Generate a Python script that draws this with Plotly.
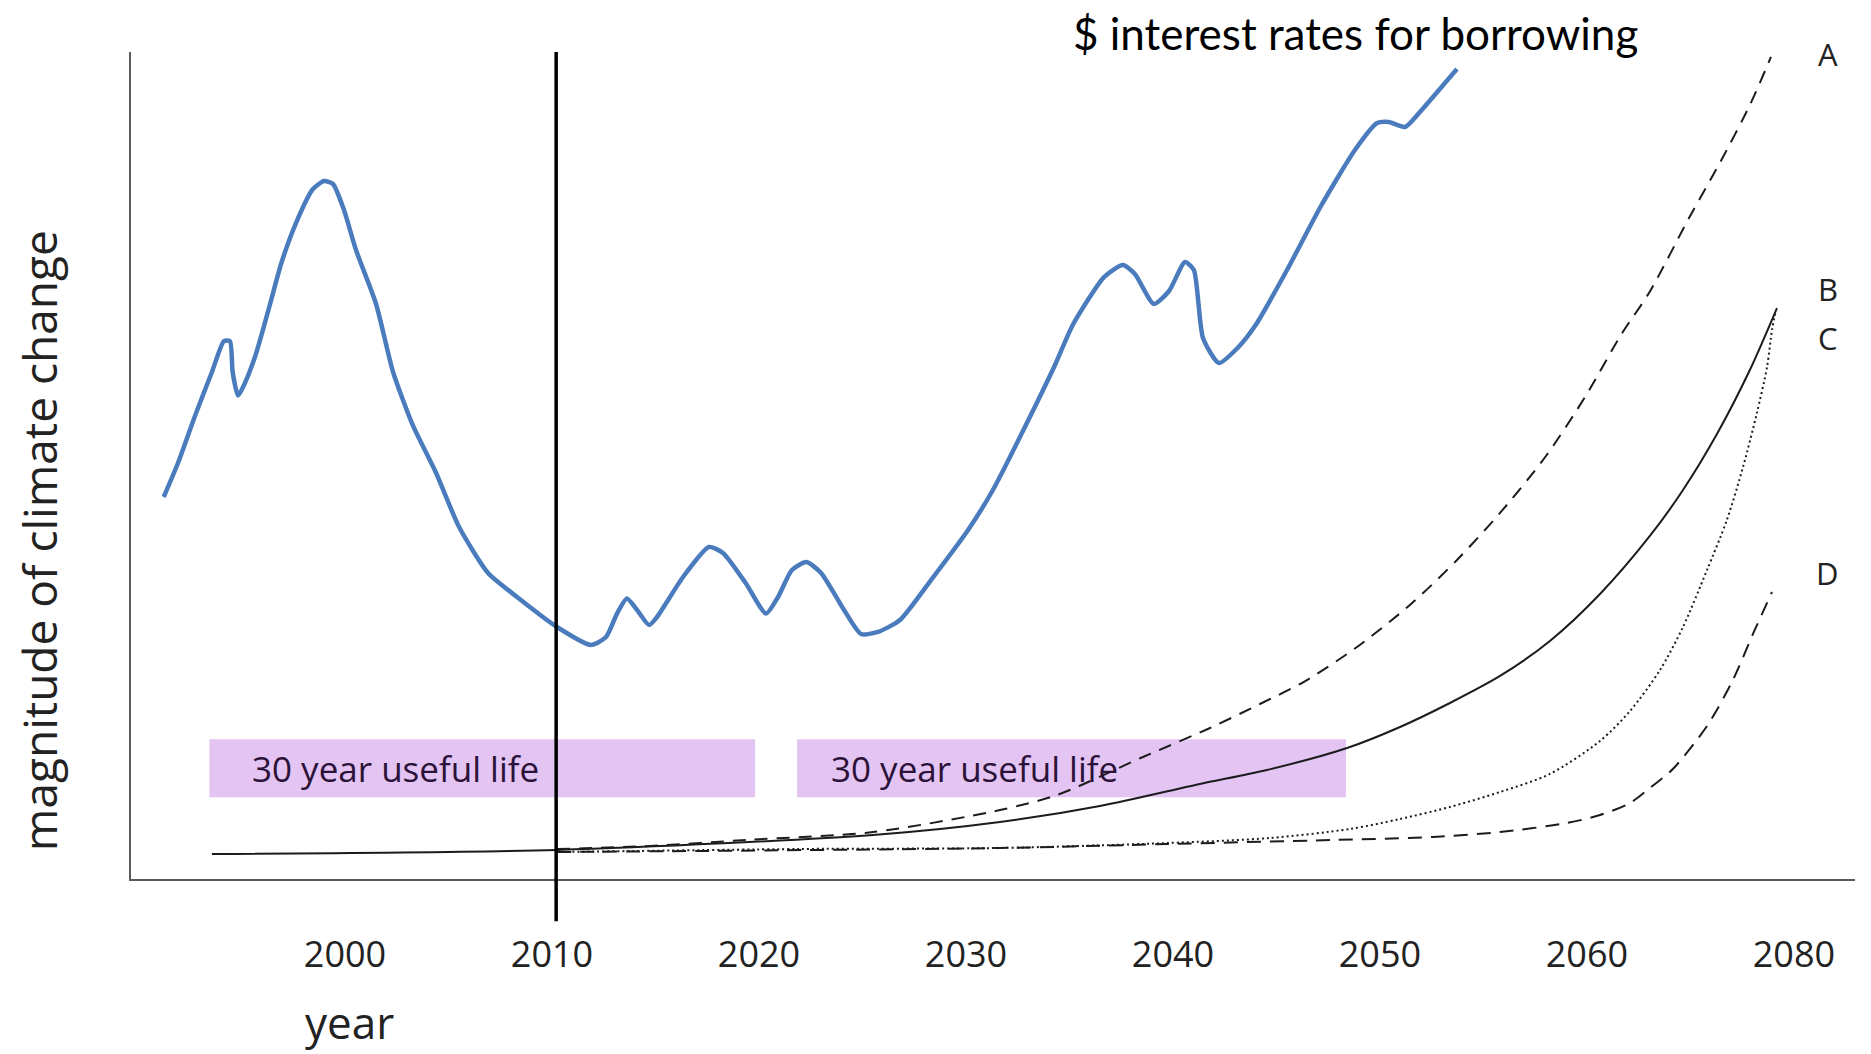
import plotly.graph_objects as go

# ---------------- data ----------------
rate_years = [1991.24, 1991.93, 1992.75, 1993.57, 1994.15, 1994.44, 1994.57, 1994.83,
              1995.12, 1995.68, 1996.38, 1996.91, 1997.63, 1998.45, 1998.99, 1999.42,
              1999.95, 2000.53, 2001.50, 2002.32, 2003.29, 2004.40, 2005.51, 2006.91,
              2008.31, 2010.24, 2011.88, 2012.61, 2013.14, 2013.62, 2014.11, 2014.69,
              2015.07, 2016.33, 2017.58, 2018.26, 2019.37, 2020.34, 2020.92, 2021.59,
              2022.29, 2023.00, 2024.11, 2024.93, 2025.75, 2026.81, 2028.31, 2030.10,
              2031.30, 2032.80, 2034.30, 2035.17, 2036.67, 2037.58, 2038.16, 2039.08,
              2039.81, 2040.58, 2041.01, 2041.45, 2042.22, 2043.12, 2044.01, 2045.51,
              2047.15, 2048.79, 2049.86, 2050.43, 2051.21, 2051.93, 2053.14, 2053.72]
rate_values = [46.19, 50.30, 55.99, 61.31, 65.05, 65.05, 61.31, 58.46,
               59.73, 63.36, 69.53, 74.37, 79.32, 83.43, 84.40, 84.04,
               80.89, 76.06, 69.53, 61.31, 54.78, 49.09, 42.56, 37.00,
               34.10, 30.47, 28.30, 29.26, 32.10, 33.92, 32.53, 30.71,
               31.68, 36.52, 40.15, 39.42, 35.73, 32.10, 34.10, 37.36,
               38.33, 37.00, 32.53, 29.63, 29.87, 31.32, 36.15, 42.20,
               47.04, 54.41, 62.15, 67.05, 72.79, 74.24, 73.16, 69.53,
               71.10, 74.61, 73.64, 65.42, 62.39, 64.21, 67.05, 73.64,
               81.38, 88.15, 91.41, 91.54, 90.93, 92.74, 96.25, 97.94]

a_years = [2010.24, 2014.73, 2019.37, 2025.51, 2031.64, 2034.40, 2038.55, 2041.79,
           2044.25, 2046.31, 2048.89, 2051.50, 2053.72, 2055.80, 2058.02, 2059.95,
           2061.64, 2063.04, 2064.93, 2066.47, 2067.87, 2068.89]
a_values = [3.63, 3.99, 4.72, 5.68, 8.34, 10.16, 14.75, 18.26,
            21.22, 23.82, 28.05, 33.25, 38.57, 44.26, 51.15, 58.45,
            65.78, 71.04, 79.93, 86.82, 93.59, 99.40]

b_years = [1993.57, 2010.24, 2025.51, 2031.64, 2036.47, 2041.30, 2044.54, 2048.41,
           2050.97, 2053.38, 2055.80, 2058.21, 2060.63, 2063.04, 2064.64, 2066.28,
           2067.87, 2069.18]
b_values = [3.02, 3.51, 5.32, 6.89, 8.83, 11.49, 13.18, 15.84,
            18.38, 21.28, 24.55, 28.78, 34.46, 41.48, 47.04, 53.81,
            61.55, 69.04]

c_years = [2010.24, 2021.98, 2031.64, 2039.71, 2044.69, 2048.55, 2050.97, 2053.38,
           2055.80, 2058.21, 2060.63, 2062.08, 2063.53, 2064.64, 2065.80, 2066.76,
           2067.54, 2068.21, 2068.70, 2068.94, 2069.13]
c_values = [3.26, 3.63, 3.75, 4.35, 4.96, 6.05, 7.26, 8.71,
            10.52, 12.70, 16.69, 20.31, 25.27, 30.47, 37.36, 43.41,
            49.82, 56.35, 61.91, 66.38, 68.80]

d_years = [2010.24, 2031.64, 2039.71, 2047.73, 2052.56, 2055.80, 2059.03, 2060.63,
           2062.08, 2063.04, 2064.15, 2065.80, 2067.05, 2068.02, 2068.94]
d_values = [3.26, 3.75, 4.23, 4.72, 5.08, 5.68, 6.77, 7.74,
            9.19, 11.00, 13.30, 18.50, 24.06, 29.63, 34.70]

scenario_labels = ["A", "B", "C", "D"]
scenario_label_values = [99.8, 71.3, 65.4, 37.0]
scenario_label_year = 2071.64

tick_years = [2000, 2010, 2020, 2030, 2040, 2050, 2060, 2070]
tick_text = ["2000", "2010", "2020", "2030", "2040", "2050", "2060", "2080"]

life_starts = [1993.45, 2021.84]
life_ends = [2019.81, 2048.36]
life_low = 9.9
life_high = 16.9
life_text = "30 year useful life"
life_text_years = [1995.41, 2023.38]
life_text_value = 13.4

policy_year = 2010.2

# ---------------- figure ----------------
fig = go.Figure()

ink = "#1c1c1c"
fig.add_trace(go.Scatter(x=rate_years, y=rate_values, mode="lines",
                         line=dict(color="#4a7cbd", width=4.5, shape="spline", smoothing=0.6),
                         hoverinfo="skip", showlegend=False))
fig.add_trace(go.Scatter(x=a_years, y=a_values, mode="lines",
                         line=dict(color=ink, width=2, dash="13px,9px", shape="spline", smoothing=0.8),
                         showlegend=False))
fig.add_trace(go.Scatter(x=b_years, y=b_values, mode="lines",
                         line=dict(color=ink, width=2, shape="spline", smoothing=0.8),
                         showlegend=False))
fig.add_trace(go.Scatter(x=c_years, y=c_values, mode="lines",
                         line=dict(color=ink, width=2, dash="2px,3px", shape="spline", smoothing=0.8),
                         showlegend=False))
fig.add_trace(go.Scatter(x=d_years, y=d_values, mode="lines",
                         line=dict(color=ink, width=2, dash="14px,9px", shape="spline", smoothing=0.8),
                         showlegend=False))

for s, e in zip(life_starts, life_ends):
    fig.add_shape(type="rect", x0=s, x1=e, y0=life_low, y1=life_high,
                  xref="x", yref="y", fillcolor="#e3c4f2", line=dict(width=0), layer="below")
for xt in life_text_years:
    fig.add_annotation(x=xt, y=life_text_value, xref="x", yref="y", text=life_text,
                       showarrow=False, xanchor="left", yanchor="middle",
                       font=dict(family="Open Sans", size=35, color="#2b1238"))

fig.add_shape(type="line", x0=policy_year, x1=policy_year, y0=-0.051, y1=1.0,
              xref="x", yref="paper", line=dict(color="#000000", width=3.5), layer="above")

for lab, val in zip(scenario_labels, scenario_label_values):
    fig.add_annotation(x=scenario_label_year, y=val, xref="x", yref="y", text=lab,
                       showarrow=False, xanchor="center", yanchor="middle",
                       font=dict(family="Open Sans", size=31, color="#222222"))

fig.add_annotation(x=2048.8, y=1.023, xref="x", yref="paper", text="$ interest rates for borrowing",
                   showarrow=False, xanchor="center", yanchor="middle",
                   font=dict(family="Lato", size=44, color="#000000"))

fig.add_annotation(x=-0.0537, y=40.9, xref="paper", yref="y", text="magnitude of climate change",
                   textangle=-90, showarrow=False, xanchor="center", yanchor="middle",
                   font=dict(family="Open Sans", size=46, color="#222222"))
fig.add_annotation(x=2000.24, y=-0.1729, xref="x", yref="paper", text="year",
                   showarrow=False, xanchor="center", yanchor="middle",
                   font=dict(family="Open Sans", size=44, color="#222222"))

fig.update_xaxes(range=[1989.66, 2072.95], tickvals=tick_years, ticktext=tick_text,
                 showgrid=False, zeroline=False, showline=True, linecolor="#5a5a5a", linewidth=2,
                 ticks="", ticklabelstandoff=43,
                 tickfont=dict(family="Open Sans", size=36, color="#222222"))
fig.update_yaxes(range=[0, 100], showticklabels=False, showgrid=False, zeroline=False,
                 showline=True, linecolor="#5a5a5a", linewidth=2, ticks="")

# the page keeps the browser's default 8px body margin, so the figure is 8px smaller
fig.update_layout(width=1863, height=1046, autosize=False,
                  margin=dict(l=123, r=16, t=44, b=175),
                  paper_bgcolor="#ffffff", plot_bgcolor="#ffffff",
                  showlegend=False)

fig.write_html("out.html")
